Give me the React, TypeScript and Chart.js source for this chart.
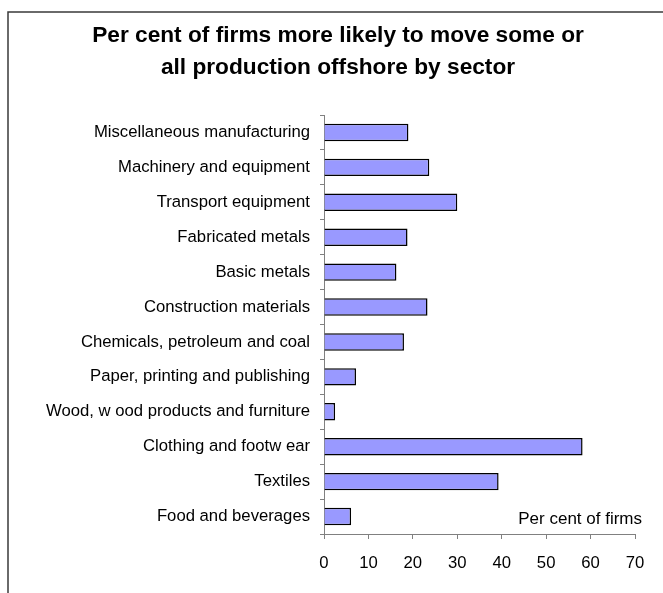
import React, { useEffect, useRef } from "react";
import { Chart, registerables } from "chart.js";

Chart.register(...registerables);

const titleLines = [
  "Per cent of firms more likely to move some or",
  "all production offshore by sector",
];
const categories = [
  "Miscellaneous manufacturing",
  "Machinery and equipment",
  "Transport equipment",
  "Fabricated metals",
  "Basic metals",
  "Construction materials",
  "Chemicals, petroleum and coal",
  "Paper, printing and publishing",
  "Wood, w ood products and furniture",
  "Clothing and footw ear",
  "Textiles",
  "Food and beverages",
];
const values = [19, 23.7, 30, 18.8, 16.3, 23.3, 18, 7.2, 2.5, 58.2, 39.3, 6.1];
const xTickValues = [0, 10, 20, 30, 40, 50, 60, 70];
const axisNote = "Per cent of firms";

const FONT = "'Liberation Sans', Arial, sans-serif";
const W = 663;
const H = 593;
const PAD_LEFT = 41;

const framePlugin = {
  id: "frame",
  beforeDraw(chart: any) {
    const ctx = chart.ctx;
    ctx.save();
    ctx.strokeStyle = "#3a3a3a";
    ctx.lineWidth = 1.5;
    ctx.beginPath();
    ctx.moveTo(8, H);
    ctx.lineTo(8, 12);
    ctx.lineTo(W, 12);
    ctx.stroke();
    ctx.restore();
  },
  afterDraw(chart: any) {
    const ctx = chart.ctx;
    const a = chart.chartArea;
    ctx.save();
    ctx.fillStyle = "#000";
    ctx.font = `17px ${FONT}`;
    ctx.textAlign = "right";
    ctx.textBaseline = "middle";
    ctx.fillText(axisNote, a.right + 7, a.bottom - 15);
    ctx.restore();
  },
};

export default function App() {
  const ref = useRef<HTMLCanvasElement>(null);
  useEffect(() => {
    if (!ref.current) return;
    const chart = new Chart(ref.current, {
      type: "bar",
      data: {
        labels: categories,
        datasets: [
          {
            data: values,
            backgroundColor: "#9999ff",
            borderColor: "#000000",
            borderWidth: 1.5,
            barPercentage: 0.5,
            categoryPercentage: 1,
          },
        ],
      },
      options: {
        indexAxis: "y",
        animation: false,
        responsive: false,
        maintainAspectRatio: false,
        layout: { padding: { left: PAD_LEFT, right: 28, top: 0, bottom: 0 } },
        plugins: {
          legend: { display: false },
          tooltip: { enabled: false },
          title: {
            display: true,
            text: titleLines,
            color: "#000",
            font: { family: FONT, size: 22.7, weight: "bold", lineHeight: "32px" },
            padding: { top: 19.6, bottom: 31.4 },
          },
        },
        scales: {
          x: {
            min: 0,
            max: 70,
            afterBuildTicks: (s: any) => {
              s.ticks = xTickValues.map((v) => ({ value: v }));
            },
            afterFit: (s: any) => {
              s.height = 59;
            },
            grid: {
              drawOnChartArea: false,
              drawTicks: true,
              tickLength: 5,
              color: "#808080",
            },
            border: { color: "#808080", width: 1 },
            ticks: {
              color: "#000",
              font: { family: FONT, size: 16.7 },
              padding: 14,
            },
          },
          y: {
            afterFit: (s: any) => {
              s.width = 324 - PAD_LEFT;
            },
            grid: {
              offset: true,
              drawOnChartArea: false,
              drawTicks: true,
              tickLength: 4,
              color: "#808080",
            },
            border: { color: "#808080", width: 1 },
            ticks: {
              color: "#000",
              font: { family: FONT, size: 16.7 },
              padding: 10,
              autoSkip: false,
            },
          },
        },
      },
      plugins: [framePlugin],
    });
    return () => chart.destroy();
  }, []);
  return (
    <div style={{ position: "fixed", left: 0, top: 0, width: W, height: H, background: "#fff" }}>
      <canvas ref={ref} width={W} height={H} style={{ display: "block", width: W, height: H }} />
    </div>
  );
}
